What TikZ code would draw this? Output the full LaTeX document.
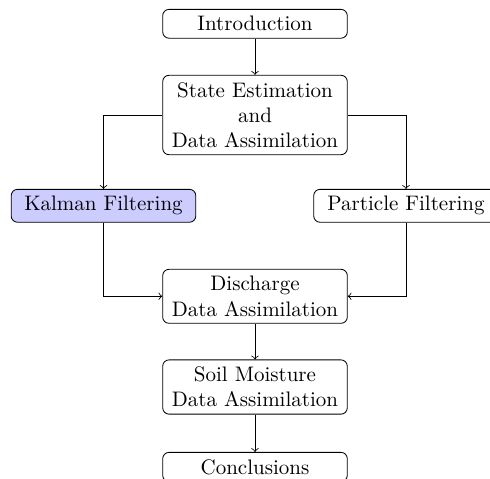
\documentclass[tikz,border=0pt]{standalone}
\usetikzlibrary{positioning}
\begin{document}
\begin{tikzpicture}[x=0.47619pt,y=-0.47619pt,
  box/.style={draw, rounded corners=3pt, align=center, minimum width=87.9pt, line width=0.4pt},
  hilite/.style={box, fill=blue!20},
  flow/.style={->, line width=0.4pt}]
  \useasboundingbox (0,0) rectangle (490,478);
  \node[box] (intro) at (255,23.8) {Introduction};
  \node[box] (est) at (255,115) {State Estimation\\and\\Data Assimilation};
  \node[hilite] (kal) at (103.5,205.8) {Kalman Filtering};
  \node[box] (part) at (406,205.8) {Particle Filtering};
  \node[box] (dis) at (255,296.3) {Discharge\\Data Assimilation};
  \node[box] (soil) at (255,387) {Soil Moisture\\Data Assimilation};
  \node[box] (conc) at (255,467) {Conclusions};
  \draw[flow] (intro) -- (est);
  \draw[flow] (est.west) -| (kal.north);
  \draw[flow] (est.east) -| (part.north);
  \draw[flow] (kal.south) |- (dis.west);
  \draw[flow] (part.south) |- (dis.east);
  \draw[flow] (dis) -- (soil);
  \draw[flow] (soil) -- (conc);
\end{tikzpicture}
\end{document}
